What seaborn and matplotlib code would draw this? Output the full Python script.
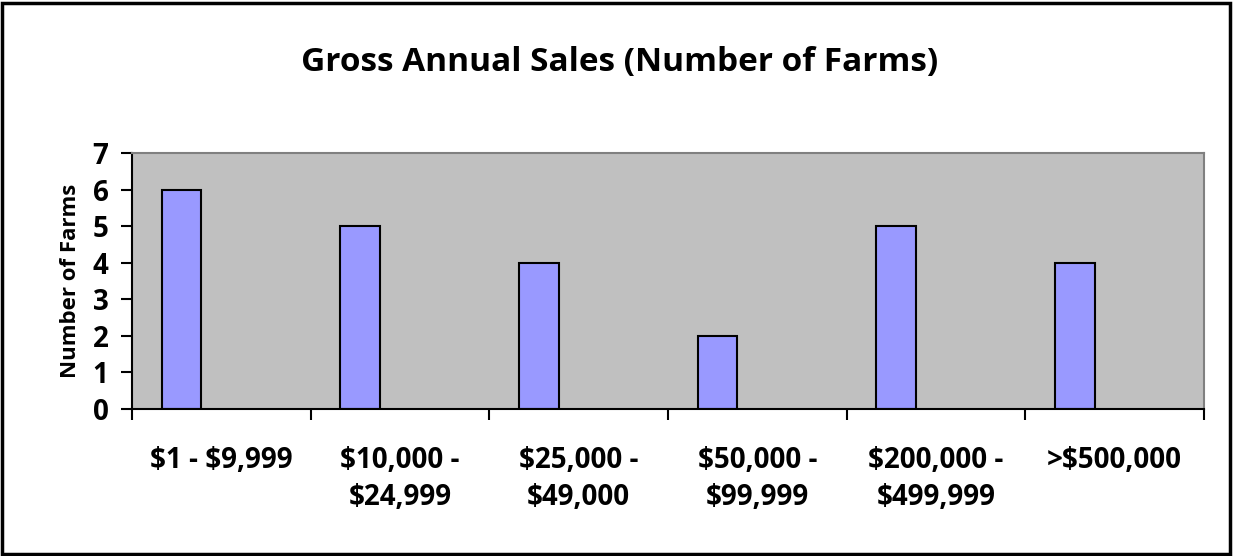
import matplotlib
matplotlib.use("Agg")
import matplotlib.pyplot as plt
import seaborn as sns
import pandas as pd
from matplotlib.patches import Rectangle

categories = ["$1 - $9,999", "$10,000 -\n$24,999", "$25,000 -\n$49,000",
              "$50,000 -\n$99,999", "$200,000 -\n$499,999", ">$500,000"]
farms = [6, 5, 4, 2, 5, 4]
y_ticks = [0, 1, 2, 3, 4, 5, 6, 7]

sns.set_theme(style="white")
plt.rcParams['font.family'] = ['Open Sans', 'DejaVu Sans']
plt.rcParams['font.weight'] = 'bold'
plt.rcParams['text.parse_math'] = False
plt.rcParams['text.color'] = 'black'
plt.rcParams['axes.labelcolor'] = 'black'
plt.rcParams['xtick.color'] = 'black'
plt.rcParams['ytick.color'] = 'black'

df = pd.DataFrame({"cat": categories, "farms": farms, "series": "Farms"})

fig = plt.figure(figsize=(12.33, 5.56), dpi=100)
ax = fig.add_axes([132/1233, 1-408.7/556, (1204-132)/1233, (408.7-153.3)/556])
ax.set_facecolor("#C0C0C0")

sns.barplot(data=df, x="cat", y="farms", hue="series",
            hue_order=["Farms", "_s2", "_s3"],
            palette={"Farms": "#9999FF", "_s2": "#993366", "_s3": "#FFFFCC"},
            dodge=True, width=0.667, edgecolor="black", linewidth=1.5,
            saturation=1, legend=False, ax=ax, order=categories)

ax.set_xlim(-0.5, len(categories) - 0.5)
ax.set_ylim(0, 7)
ax.set_yticks(y_ticks)
ax.set_yticklabels([str(v) for v in y_ticks], fontsize=20, fontweight="bold")
ax.set_xticks(range(len(categories)))
ax.set_xticklabels(categories, fontsize=20, fontweight="bold", linespacing=1.35)
ax.set_xticks([i - 0.5 for i in range(len(categories) + 1)], minor=True)
ax.tick_params(axis="x", which="major", length=0, pad=27)
ax.tick_params(axis="x", which="minor", length=8, width=1.5, color="black", direction="out", bottom=True)
ax.tick_params(axis="y", length=8, width=1.5, color="black", direction="out", left=True, pad=9)
ax.set_xlabel("")
ax.set_ylabel("Number of Farms", fontsize=16, fontweight="bold", labelpad=8)

for side in ["left", "bottom"]:
    ax.spines[side].set_color("black")
    ax.spines[side].set_linewidth(1.5)
for side in ["top", "right"]:
    ax.spines[side].set_color("#808080")
    ax.spines[side].set_linewidth(1.5)
    ax.spines[side].set_visible(True)

fig.text(620/1233, 1-63/556, "Gross Annual Sales (Number of Farms)",
         ha="center", va="center", fontsize=24, fontweight="bold")

fig.patches.append(Rectangle((2/1233, 2/556), 1228/1233, 551/556, transform=fig.transFigure,
                             fill=False, edgecolor="black", linewidth=2.5))

fig.savefig("out.png", dpi=100, facecolor="white")
